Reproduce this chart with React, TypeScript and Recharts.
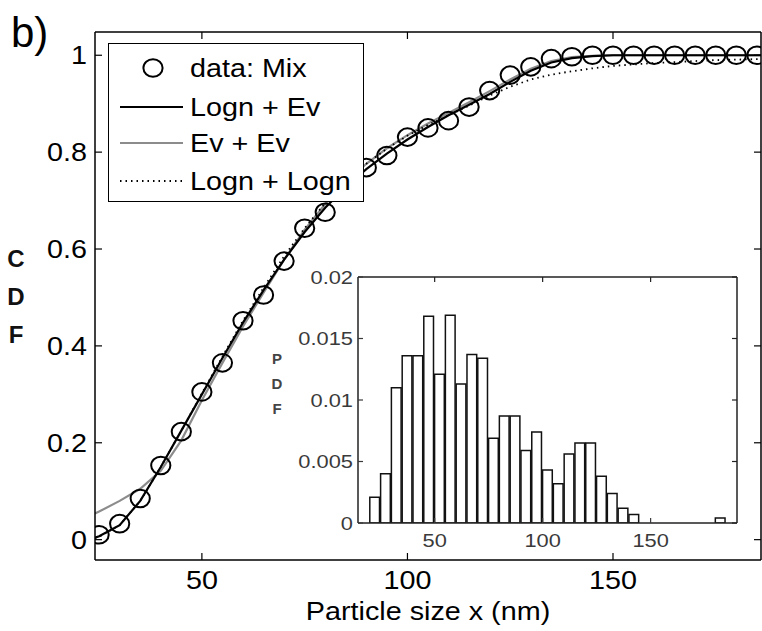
import React from 'react';
import { ComposedChart, BarChart, Bar, Line, XAxis, YAxis } from 'recharts';

// the source figure is stretched sideways a little, text follows that
const SX = 1.15;
const FONT = '"Liberation Sans", Arial, Helvetica, sans-serif';

// ---- main CDF plot ----
const cdfX = [24, 25, 30, 35, 40, 45, 50, 55, 60, 65, 70, 75, 80, 85, 90, 95, 100, 105, 110, 115, 120, 125, 130, 135, 140, 145, 150, 155, 160, 165, 170, 175, 180, 185, 186];
const lognEv = [0.004, 0.007, 0.03, 0.08, 0.15, 0.225, 0.3, 0.375, 0.448, 0.515, 0.578, 0.635, 0.685, 0.728, 0.765, 0.797, 0.826, 0.852, 0.876, 0.898, 0.92, 0.945, 0.968, 0.985, 0.994, 0.998, 1, 1, 1, 1, 1, 1, 1, 1, 1];
const evEv = [0.054, 0.058, 0.08, 0.105, 0.142, 0.205, 0.288, 0.365, 0.44, 0.51, 0.578, 0.64, 0.693, 0.738, 0.776, 0.808, 0.835, 0.859, 0.881, 0.903, 0.926, 0.95, 0.972, 0.988, 0.996, 0.999, 1, 1, 1, 1, 1, 1, 1, 1, 1];
const lognLogn = [0.003, 0.006, 0.03, 0.08, 0.15, 0.225, 0.302, 0.378, 0.452, 0.52, 0.585, 0.643, 0.695, 0.738, 0.776, 0.807, 0.834, 0.856, 0.876, 0.896, 0.917, 0.935, 0.95, 0.96, 0.967, 0.973, 0.978, 0.981, 0.984, 0.986, 0.988, 0.99, 0.991, 0.992, 0.992];

const mixX = [25, 30, 35, 40, 45, 50, 55, 60, 65, 70, 75, 80, 85, 90, 95, 100, 105, 110, 115, 120, 125, 130, 135, 140, 145, 150, 155, 160, 165, 170, 175, 180, 185];
const mixCdf = [0.01, 0.033, 0.085, 0.153, 0.223, 0.305, 0.365, 0.452, 0.505, 0.575, 0.643, 0.676, 0.722, 0.768, 0.793, 0.831, 0.85, 0.865, 0.893, 0.927, 0.959, 0.976, 0.993, 0.997, 1, 1, 1, 1, 1, 1, 1, 1, 1];

const seriesNames = ['data: Mix', 'Logn + Ev', 'Ev + Ev', 'Logn + Logn'];
const mainXTicks = [50, 100, 150];
const mainYTicks = [0, 0.2, 0.4, 0.6, 0.8, 1];

// ---- inset histogram ----
const binCenters = [22, 27, 32, 37, 42, 47, 52, 57, 62, 67, 72, 77, 82, 87, 92, 97, 102, 107, 112, 117, 122, 127, 132, 137, 142, 182];
const pdfValues = [0.0021, 0.004, 0.011, 0.0136, 0.0136, 0.0168, 0.0121, 0.0169, 0.0113, 0.0137, 0.0134, 0.0069, 0.0087, 0.0087, 0.0059, 0.0074, 0.0043, 0.0032, 0.0056, 0.0065, 0.0065, 0.0038, 0.0024, 0.0012, 0.0007, 0.0004];
const insetXTicks = [50, 100, 150];
const insetYTicks = [0, 0.005, 0.01, 0.015, 0.02];

const mainData = cdfX.map((x, i) => {
  const k = mixX.indexOf(x);
  return {
    x,
    lognEv: lognEv[i],
    evEv: evEv[i],
    lognLogn: lognLogn[i],
    mix: k >= 0 ? mixCdf[k] : null,
  };
});

const histData = binCenters.map((x, i) => ({ x, pdf: pdfValues[i] }));

const WideText = ({ x, y, anchor = 'start', size, fill = '#000', weight = 'normal', children }: any) => (
  <g transform={`translate(${x},${y}) scale(${SX},1)`}>
    <text x={0} y={0} textAnchor={anchor} fontSize={size} fontFamily={FONT} fill={fill} fontWeight={weight}>
      {children}
    </text>
  </g>
);

// ticks point inwards like matlab; tickSize/tickMargin are 0 so (x,y) sits on the axis line
const makeBottomTick = (len: number, size: number, gap: number, color: string) => (props: any) => {
  const { x, y, payload } = props;
  return (
    <g>
      <line x1={x} x2={x} y1={y} y2={y - len} stroke={color} strokeWidth={1.2} />
      <WideText x={x} y={y + gap} anchor="middle" size={size} fill={color}>{String(payload.value)}</WideText>
    </g>
  );
};

const makeLeftTick = (len: number, size: number, gap: number, color: string) => (props: any) => {
  const { x, y, payload } = props;
  return (
    <g>
      <line x1={x} x2={x + len} y1={y} y2={y} stroke={color} strokeWidth={1.2} />
      <WideText x={x - gap} y={y + size * 0.36} anchor="end" size={size} fill={color}>{String(payload.value)}</WideText>
    </g>
  );
};

const makeTopTick = (len: number, color: string) => (props: any) => (
  <line x1={props.x} x2={props.x} y1={props.y} y2={props.y + len} stroke={color} strokeWidth={1.2} />
);

const makeRightTick = (len: number, color: string) => (props: any) => (
  <line x1={props.x} x2={props.x - len} y1={props.y} y2={props.y} stroke={color} strokeWidth={1.2} />
);

const XTitle = (props: any) => {
  const vb = props.viewBox;
  return <WideText x={vb.x + vb.width / 2} y={vb.y + 60} anchor="middle" size={25}>Particle size x (nm)</WideText>;
};

const CdfTitle = (props: any) => {
  const vb = props.viewBox;
  const cy = vb.y + vb.height / 2;
  return (
    <g fontFamily={FONT} fontSize={24} fontWeight="bold" textAnchor="middle" fill="#111">
      <text x={16} y={cy - 29}>C</text>
      <text x={16} y={cy + 9}>D</text>
      <text x={16} y={cy + 47}>F</text>
    </g>
  );
};

const PdfTitle = (props: any) => {
  const vb = props.viewBox;
  return (
    <g fontFamily={FONT} fontSize={15} fontWeight="bold" textAnchor="middle" fill="#444">
      <text x={27} y={vb.y + 87}>P</text>
      <text x={27} y={vb.y + 112}>D</text>
      <text x={27} y={vb.y + 137}>F</text>
    </g>
  );
};

const MixDot = (props: any) => {
  const { cx, cy, index, value } = props;
  if (value == null || cy == null) return <g key={`m${index}`} />;
  return <ellipse key={`m${index}`} cx={cx} cy={cy} rx={9.6} ry={8.8} fill="none" stroke="#000" strokeWidth={2} />;
};

function Legend() {
  const rows = [66, 102, 141];
  return (
    <div
      style={{
        position: 'absolute',
        left: 108,
        top: 43,
        width: 256,
        height: 159,
        boxSizing: 'border-box',
        border: '1.5px solid #000',
        background: '#fff',
      }}
    >
      <svg width={253} height={156} style={{ display: 'block' }}>
        <ellipse cx={44} cy={24} rx={9.6} ry={8.8} fill="none" stroke="#000" strokeWidth={2} />
        <WideText x={81} y={33} size={25}>{seriesNames[0]}</WideText>
        <line x1={11} x2={74} y1={rows[0] - 3} y2={rows[0] - 3} stroke="#000" strokeWidth={2.2} />
        <WideText x={81} y={rows[0] + 6} size={25}>{seriesNames[1]}</WideText>
        <line x1={11} x2={74} y1={rows[1] - 3} y2={rows[1] - 3} stroke="#8c8c8c" strokeWidth={2.2} />
        <WideText x={81} y={rows[1] + 6} size={25}>{seriesNames[2]}</WideText>
        <line x1={11} x2={74} y1={rows[2] - 4} y2={rows[2] - 4} stroke="#000" strokeWidth={1.8} strokeDasharray="1.5 4" />
        <WideText x={81} y={rows[2] + 5} size={25}>{seriesNames[3]}</WideText>
      </svg>
    </div>
  );
}

export default function App() {
  return (
    <div style={{ position: 'absolute', left: 0, top: 0, width: 762, height: 631, background: '#fff', overflow: 'hidden' }}>
      <ComposedChart width={762} height={631} data={mainData} margin={{ top: 31, right: 0, left: 0, bottom: 0 }}>
        <XAxis
          dataKey="x"
          type="number"
          domain={[24, 186]}
          ticks={mainXTicks}
          allowDataOverflow
          height={71}
          tickSize={0}
          tickMargin={0}
          tickLine={false}
          axisLine={{ stroke: '#000', strokeWidth: 1.5 }}
          tick={makeBottomTick(7, 25, 29, '#000')}
          label={XTitle}
        />
        <XAxis
          xAxisId="top"
          orientation="top"
          dataKey="x"
          type="number"
          domain={[24, 186]}
          ticks={mainXTicks}
          allowDataOverflow
          height={1}
          tickSize={0}
          tickMargin={0}
          tickLine={false}
          axisLine={{ stroke: '#000', strokeWidth: 1.5 }}
          tick={makeTopTick(7, '#000')}
        />
        <YAxis
          type="number"
          domain={[-0.042, 1.048]}
          ticks={mainYTicks}
          allowDataOverflow
          width={95}
          tickSize={0}
          tickMargin={0}
          tickLine={false}
          axisLine={{ stroke: '#000', strokeWidth: 1.5 }}
          tick={makeLeftTick(7, 25, 8, '#000')}
          label={CdfTitle}
        />
        <YAxis
          yAxisId="right"
          orientation="right"
          type="number"
          domain={[-0.042, 1.048]}
          ticks={mainYTicks}
          allowDataOverflow
          width={1}
          tickSize={0}
          tickMargin={0}
          tickLine={false}
          axisLine={{ stroke: '#000', strokeWidth: 1.5 }}
          tick={makeRightTick(7, '#000')}
        />
        <Line dataKey="evEv" name={seriesNames[2]} stroke="#8c8c8c" strokeWidth={2.2} dot={false} isAnimationActive={false} />
        <Line dataKey="lognLogn" name={seriesNames[3]} stroke="#000" strokeWidth={1.8} strokeDasharray="1.5 4" dot={false} isAnimationActive={false} />
        <Line dataKey="lognEv" name={seriesNames[1]} stroke="#000" strokeWidth={2.2} dot={false} isAnimationActive={false} />
        <Line dataKey="mix" name={seriesNames[0]} stroke="none" dot={MixDot} activeDot={false} connectNulls isAnimationActive={false} />
      </ComposedChart>

      <Legend />

      <svg width={60} height={62} style={{ position: 'absolute', left: 0, top: 0 }}>
        <text x={11} y={47} fontFamily={FONT} fontSize={42} fill="#000">b)</text>
      </svg>

      <div style={{ position: 'absolute', left: 250, top: 260 }}>
        <BarChart width={490} height={300} data={histData} margin={{ top: 16, right: 2, left: 0, bottom: 0 }}>
          <XAxis
            dataKey="x"
            type="number"
            domain={[14.5, 190]}
            ticks={insetXTicks}
            allowDataOverflow
            height={37}
            tickSize={0}
            tickMargin={0}
            tickLine={false}
            axisLine={{ stroke: '#222', strokeWidth: 1.5 }}
            tick={makeBottomTick(5, 19, 24, '#3a3a3a')}
          />
          <XAxis
            xAxisId="top"
            orientation="top"
            dataKey="x"
            type="number"
            domain={[14.5, 190]}
            ticks={insetXTicks}
            allowDataOverflow
            height={1}
            tickSize={0}
            tickMargin={0}
            tickLine={false}
            axisLine={{ stroke: '#222', strokeWidth: 1.5 }}
            tick={makeTopTick(5, '#222')}
          />
          <YAxis
            type="number"
            domain={[0, 0.02]}
            ticks={insetYTicks}
            allowDataOverflow
            width={108}
            tickSize={0}
            tickMargin={0}
            tickLine={false}
            axisLine={{ stroke: '#222', strokeWidth: 1.5 }}
            tick={makeLeftTick(5, 19, 5, '#3a3a3a')}
            label={PdfTitle}
          />
          <YAxis
            yAxisId="right"
            orientation="right"
            type="number"
            domain={[0, 0.02]}
            ticks={insetYTicks}
            allowDataOverflow
            width={1}
            tickSize={0}
            tickMargin={0}
            tickLine={false}
            axisLine={{ stroke: '#222', strokeWidth: 1.5 }}
            tick={makeRightTick(5, '#222')}
          />
          <Bar dataKey="pdf" barSize={10.8} fill="#fff" stroke="#111" strokeWidth={1.5} isAnimationActive={false} />
        </BarChart>
      </div>
    </div>
  );
}
